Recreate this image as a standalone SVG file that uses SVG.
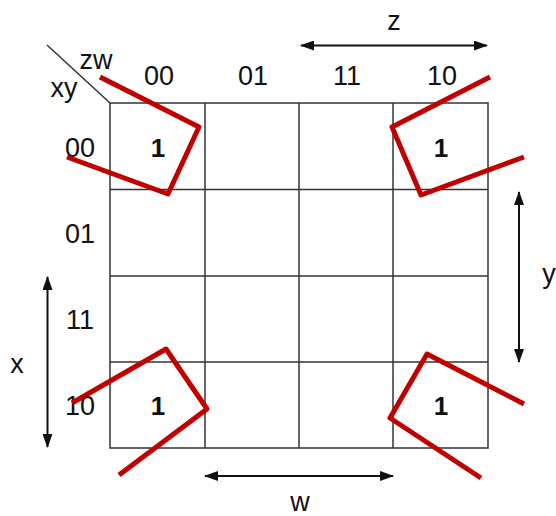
<svg xmlns="http://www.w3.org/2000/svg" width="556" height="516" viewBox="0 0 556 516">
<style>
.t{font-family:"Liberation Sans",Arial,sans-serif;font-size:27px;fill:#111;text-anchor:middle}
.one{font-family:"Liberation Sans",Arial,sans-serif;font-size:26px;font-weight:bold;fill:#111;text-anchor:middle}
.grid{stroke:#333;stroke-width:1.5;fill:none}
.loop{stroke:#c00000;stroke-width:5;fill:none;stroke-linejoin:round;stroke-linecap:butt}
.arr{stroke:#111;stroke-width:2;fill:none;marker-start:url(#ah);marker-end:url(#ah)}
</style>
<defs>
<marker id="ah" viewBox="0 0 14 10" refX="13" refY="5" markerWidth="14" markerHeight="10" markerUnits="userSpaceOnUse" orient="auto-start-reverse">
<path d="M0,0 L14,5 L0,10 Z" fill="#111"/>
</marker>
</defs>
<rect width="556" height="516" fill="#fff"/>
<g id="grid">
<rect class="grid" x="110" y="103" width="378" height="345"/>
<line class="grid" x1="205" y1="103" x2="205" y2="448"/>
<line class="grid" x1="299" y1="103" x2="299" y2="448"/>
<line class="grid" x1="393" y1="103" x2="393" y2="448"/>
<line class="grid" x1="110" y1="189.5" x2="488" y2="189.5"/>
<line class="grid" x1="110" y1="276" x2="488" y2="276"/>
<line class="grid" x1="110" y1="362" x2="488" y2="362"/>
<line class="grid" x1="47" y1="45" x2="110" y2="103" stroke-width="1.3"/>
</g>
<g id="labels">
<text class="t" x="96" y="69">zw</text>
<text class="t" x="64" y="97">xy</text>
<text class="t" x="159" y="85">00</text>
<text class="t" x="253" y="85">01</text>
<text class="t" x="347" y="85">11</text>
<text class="t" x="442" y="85">10</text>
<text class="t" x="80" y="157">00</text>
<text class="t" x="80" y="243">01</text>
<text class="t" x="80" y="329">11</text>
<text class="t" x="80" y="415">10</text>
<text class="t" x="394" y="30">z</text>
<text class="t" x="549" y="283">y</text>
<text class="t" x="17" y="373">x</text>
<text class="t" x="300" y="511">w</text>
</g>
<g id="cells">
<text class="one" x="158" y="157">1</text>
<text class="one" x="441" y="157">1</text>
<text class="one" x="158" y="415">1</text>
<text class="one" x="441" y="415">1</text>
</g>
<g id="connectors">
<line class="arr" x1="301" y1="45.5" x2="487" y2="45.5"/>
<line class="arr" x1="519" y1="192" x2="519" y2="362"/>
<line class="arr" x1="47.5" y1="277" x2="47.5" y2="447"/>
<line class="arr" x1="205" y1="476" x2="393" y2="476"/>
</g>
<g id="loops">
<path class="loop" d="M100,77 L199,127 L168,194 L67,157"/>
<path class="loop" d="M490,77 L392,127 L421,195 L524,157"/>
<path class="loop" d="M72,403 L166,349 L207,409 L119,475"/>
<path class="loop" d="M524,404 L427,354 L390,418 L481,478"/>
</g>
</svg>
